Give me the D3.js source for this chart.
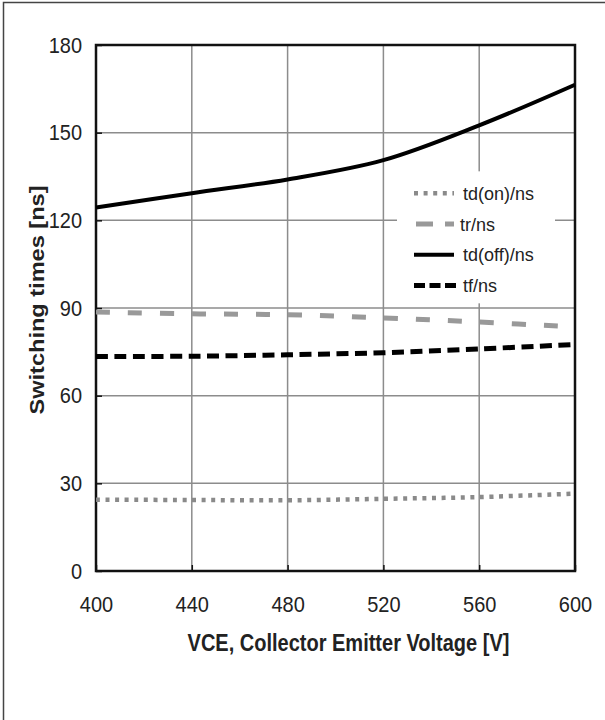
<!DOCTYPE html>
<html>
<head>
<meta charset="utf-8">
<script src="https://cdn.jsdelivr.net/npm/d3@7"></script>
<style>
body { margin: 0; background: #fff; }
text { font-family: "Liberation Sans", Arial, sans-serif; fill: #222; }
</style>
</head>
<body>
<div id="chart"></div>
<script>
// values
var voltages = [400, 440, 480, 520, 560, 600];
var tdOn  = [24.4, 24.3, 24.2, 24.7, 25.3, 26.5];
var tr    = [88.6, 88.0, 87.7, 86.6, 85.2, 83.5];
var tdOff = [124.4, 129.3, 134.0, 140.6, 152.5, 166.4];
var tf    = [73.4, 73.5, 74.0, 74.7, 76.0, 77.5];
var yTicks = [0, 30, 60, 90, 120, 150, 180];
var xTicks = [400, 440, 480, 520, 560, 600];
var seriesNames = ["td(on)/ns", "tr/ns", "td(off)/ns", "tf/ns"];

var W = 605, H = 720;
var margin = {top: 45, right: 30, bottom: 149, left: 96};
var width = W - margin.left - margin.right;
var height = H - margin.top - margin.bottom;

var svg = d3.select("#chart").append("svg")
    .attr("width", W)
    .attr("height", H);

// outer frame of the picture
svg.append("rect")
    .attr("x", 3.5).attr("y", 2.5)
    .attr("width", 620).attr("height", 730)
    .attr("fill", "none")
    .attr("stroke", "#444")
    .attr("stroke-width", 1.5);

var x = d3.scaleLinear().domain([400, 600]).range([0, width]);
var y = d3.scaleLinear().domain([0, 180]).range([height, 0]);

var g = svg.append("g")
    .attr("transform", "translate(" + margin.left + "," + margin.top + ")");

// grid
g.append("g").selectAll("line")
  .data(yTicks.slice(1, -1))
  .enter().append("line")
  .attr("x1", 0).attr("x2", width)
  .attr("y1", d => y(d)).attr("y2", d => y(d))
  .attr("stroke", "#8c8c8c").attr("stroke-width", 1.5);

g.append("g").selectAll("line")
  .data(xTicks.slice(1, -1))
  .enter().append("line")
  .attr("y1", 0).attr("y2", height)
  .attr("x1", d => x(d)).attr("x2", d => x(d))
  .attr("stroke", "#8c8c8c").attr("stroke-width", 1.5);

// legend background hides the grid under it
var leg = g.append("g").attr("transform", "translate(" + (x(600) - 178) + "," + (y(120) - 49) + ")");
leg.append("rect")
    .attr("x", 0).attr("y", 0)
    .attr("width", 158).attr("height", 132)
    .attr("fill", "#fff");

// inner tick marks
var yAxis = d3.axisLeft(y).tickValues(yTicks).tickSize(-6).tickPadding(14).tickFormat(d3.format("d"));
var xAxis = d3.axisBottom(x).tickValues(xTicks).tickSize(-6).tickPadding(27).tickFormat(d3.format("d"));

var ya = g.append("g").call(yAxis);
var xa = g.append("g").attr("transform", "translate(0," + height + ")").call(xAxis);
[ya, xa].forEach(function(a) {
  a.select(".domain").remove();
  a.selectAll(".tick line").attr("stroke", "#111").attr("stroke-width", 1.5);
  a.selectAll(".tick text").attr("font-size", 20).attr("fill", "#222")
    .style("font-family", "Liberation Sans, Arial, sans-serif")
    .attr("transform", "scale(1,1.1)");
});
ya.selectAll(".tick text").attr("dy", "0.33em");
xa.selectAll(".tick text").attr("y", 23.5);

// plot frame
g.append("rect")
    .attr("x", 0).attr("y", 0)
    .attr("width", width).attr("height", height)
    .attr("fill", "none")
    .attr("stroke", "#111")
    .attr("stroke-width", 2.5);

var styles = [
  {color: "#8a8a8a", w: 4.5, dash: "4,5.6"},
  {color: "#999999", w: 5, dash: "14,18"},
  {color: "#000000", w: 4, dash: null},
  {color: "#000000", w: 5, dash: "12,6.5"}
];
var allSeries = [tdOn, tr, tdOff, tf];

var line = d3.line()
    .x((d, i) => x(voltages[i]))
    .y(d => y(d))
    .curve(d3.curveCatmullRom);

allSeries.forEach(function(s, k) {
  g.append("path")
    .datum(s)
    .attr("d", line)
    .attr("fill", "none")
    .attr("stroke", styles[k].color)
    .attr("stroke-width", styles[k].w)
    .attr("stroke-dasharray", styles[k].dash);
});

// legend entries
var rows = leg.selectAll("g.row")
  .data(seriesNames)
  .enter().append("g")
  .attr("class", "row")
  .attr("transform", (d, i) => "translate(0," + (22 + i * 30.7) + ")");

rows.append("line")
  .attr("x1", (d, i) => i == 1 ? 19 : 17)
  .attr("x2", (d, i) => i == 3 ? 62 : 57)
  .attr("y1", 0).attr("y2", 0)
  .attr("stroke", (d, i) => styles[i].color)
  .attr("stroke-width", (d, i) => styles[i].w)
  .attr("stroke-dasharray", (d, i) => i == 1 ? "17,12" : (i == 3 ? "11,4.5" : styles[i].dash));

rows.append("text")
  .attr("x", (d, i) => i == 1 ? 63 : 66)
  .attr("y", 0)
  .attr("dy", "0.36em")
  .attr("font-size", 18)
  .text(d => d);

// axis titles (the source picture is a bit stretched vertically)
svg.append("text")
  .attr("transform", "translate(" + (margin.left + width / 2 + 13) + ",651) scale(1,1.15)")
  .attr("text-anchor", "middle")
  .attr("font-size", 20)
  .attr("font-weight", "bold")
  .text("VCE, Collector Emitter Voltage [V]");

svg.append("text")
  .attr("transform", "translate(44,300) rotate(-90)")
  .attr("text-anchor", "middle")
  .attr("font-size", 20)
  .attr("font-weight", "bold")
  .attr("textLength", 229)
  .attr("lengthAdjust", "spacingAndGlyphs")
  .text("Switching times [ns]");
</script>
</body>
</html>
